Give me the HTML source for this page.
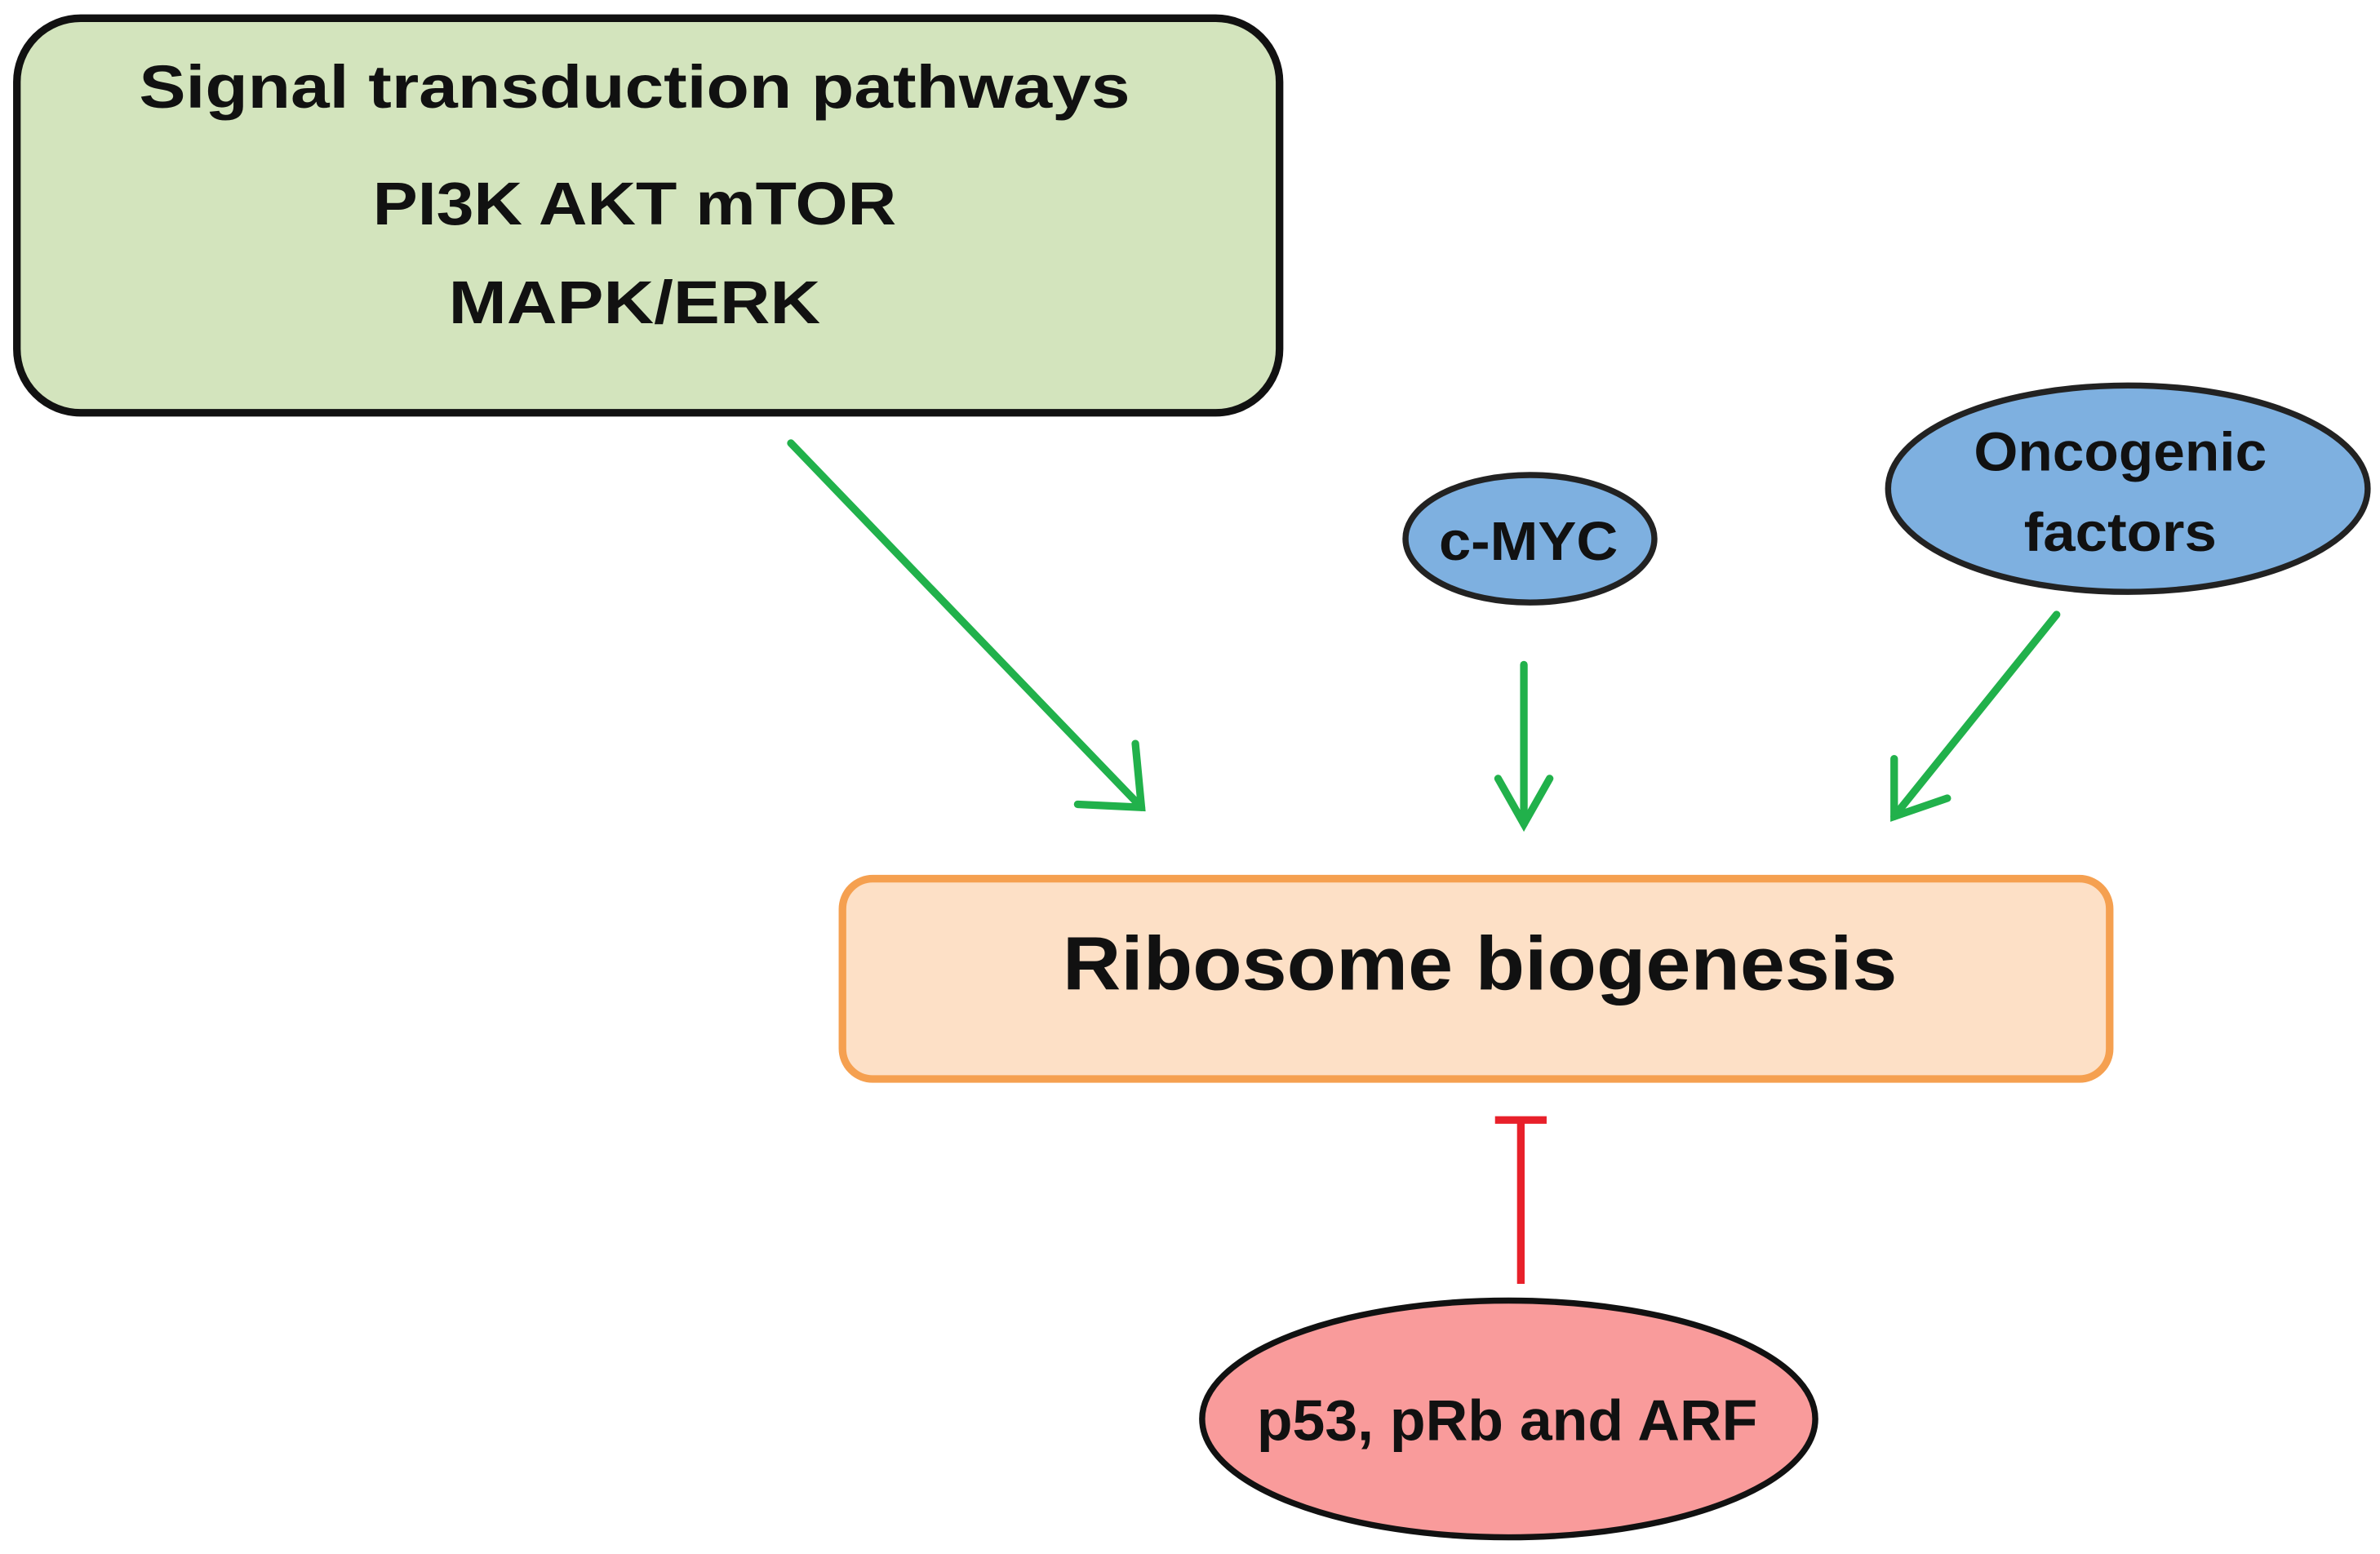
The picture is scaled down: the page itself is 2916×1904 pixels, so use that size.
<!DOCTYPE html>
<html><head><meta charset="utf-8"><style>html,body{margin:0;padding:0;background:#fff}svg{display:block}</style></head>
<body>
<svg width="2916" height="1904" viewBox="0 0 1568 1024" xmlns="http://www.w3.org/2000/svg" font-family="Liberation Sans, sans-serif" font-weight="bold" fill="#111">
<rect x="11" y="12" width="832" height="260" rx="42" fill="#d3e4bd" stroke="#111" stroke-width="5"/>
<text x="418" y="71" font-size="40" text-anchor="middle" textLength="653" lengthAdjust="spacingAndGlyphs">Signal transduction pathways</text>
<text x="418" y="148" font-size="40" text-anchor="middle" textLength="345" lengthAdjust="spacingAndGlyphs">PI3K AKT mTOR</text>
<text x="418" y="213" font-size="40" text-anchor="middle" textLength="245" lengthAdjust="spacingAndGlyphs">MAPK/ERK</text>
<g stroke="#21b14b" stroke-width="5" fill="none" stroke-linecap="round">
<line x1="521" y1="292" x2="752" y2="532"/><polyline points="710,530 752,532 748,490"/>
<line x1="1004" y1="438" x2="1004" y2="543"/><polyline points="987,513 1004,543 1021,513"/>
<line x1="1355" y1="405" x2="1248" y2="538"/><polyline points="1248,500 1248,538 1283,526"/>
</g>
<ellipse cx="1008" cy="355" rx="82" ry="42" fill="#7eb0e0" stroke="#222" stroke-width="4"/>
<text x="1007" y="369" font-size="36" text-anchor="middle" textLength="118" lengthAdjust="spacingAndGlyphs">c-MYC</text>
<ellipse cx="1402" cy="322" rx="158" ry="68" fill="#7eb0e0" stroke="#222" stroke-width="4"/>
<text x="1397" y="310" font-size="36" text-anchor="middle" textLength="193" lengthAdjust="spacingAndGlyphs">Oncogenic</text>
<text x="1397" y="363" font-size="36" text-anchor="middle" textLength="127" lengthAdjust="spacingAndGlyphs">factors</text>
<rect x="555" y="579" width="835" height="132" rx="20" fill="#fde0c6" stroke="#f5a050" stroke-width="5"/>
<text x="975" y="652" font-size="50" text-anchor="middle" textLength="550" lengthAdjust="spacingAndGlyphs">Ribosome biogenesis</text>
<g stroke="#e8202a" stroke-width="5"><line x1="1002" y1="738" x2="1002" y2="846"/><line x1="985" y1="738" x2="1019" y2="738"/></g>
<ellipse cx="994" cy="935" rx="202" ry="78" fill="#f99b9b" stroke="#111" stroke-width="4"/>
<text x="993" y="949" font-size="38" text-anchor="middle" textLength="330" lengthAdjust="spacingAndGlyphs">p53, pRb and ARF</text>
</svg>
</body></html>
